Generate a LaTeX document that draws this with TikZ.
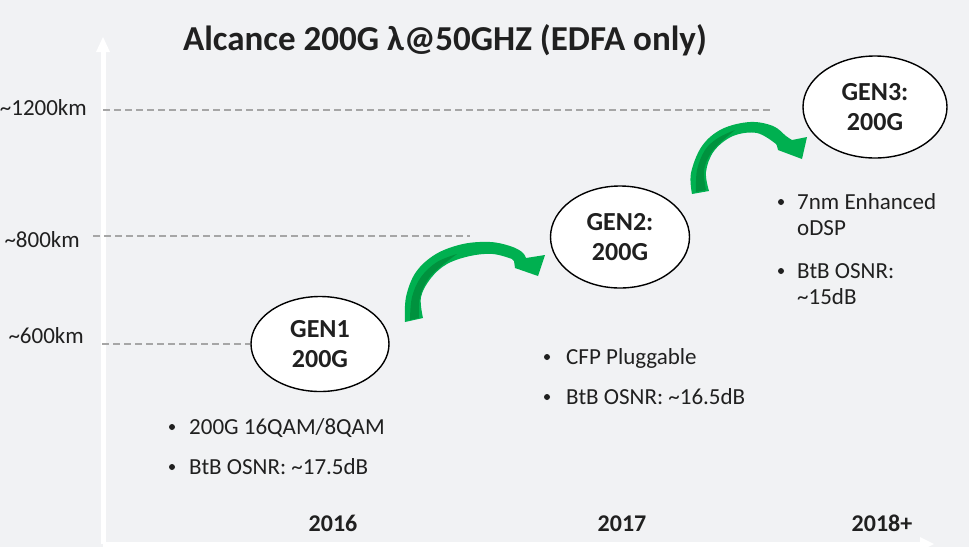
\documentclass[tikz,border=0pt]{standalone}
\usepackage{fontspec}
\setmainfont{Carlito}
\usetikzlibrary{shapes.geometric}
\definecolor{bg}{RGB}{241,242,244}
\definecolor{ink}{RGB}{32,32,32}
\definecolor{grn}{RGB}{0,176,80}
\definecolor{dgrn}{RGB}{0,146,62}
\definecolor{guide}{RGB}{166,166,166}
\begin{document}
\begin{tikzpicture}[x=1pt,y=-1pt,
  gen/.style={ellipse, draw=black, line width=1.4pt, fill=white, inner sep=0pt,
    font=\fontsize{26}{30}\selectfont\bfseries, text=ink, align=center},
  txt/.style={font=\fontsize{23}{26}\selectfont, text=ink, inner sep=0pt, anchor=base west},
  yrlbl/.style={font=\fontsize{24}{28}\selectfont\bfseries, text=ink, inner sep=0pt, anchor=base},
  kmlbl/.style={font=\fontsize{23}{27}\selectfont, text=ink, inner sep=0pt, anchor=base east},
  guideline/.style={draw=guide, line width=1.3pt, dash pattern=on 7pt off 4pt},
  axisline/.style={draw=white, line width=5pt},
  dot/.style={fill=ink}]

% canvas
\useasboundingbox (0,0) rectangle (969,547);
\fill[bg] (0,0) rectangle (969,547);

% axes
\coordinate (origin) at (103,544);
\coordinate (ytop) at (103,52);
\coordinate (xend) at (921,544);
\draw[axisline] (origin) -- (ytop);
\fill[white] (103,37) -- (110,52) -- (96,52) -- cycle;
\draw[axisline] (origin) -- (xend);
\fill[white] (934,544) -- (920,537) -- (920,551) -- cycle;

% title
\node[font=\fontsize{35}{40}\selectfont\bfseries, text=ink, inner sep=0pt, anchor=base] (title) at (445,50) {Alcance 200G λ@50GHZ (EDFA only)};

% generation bubbles
\node[gen, minimum width=138pt, minimum height=95pt] (gen1) at (320,344) {GEN1\\200G};
\node[gen, minimum width=139pt, minimum height=102pt] (gen2) at (620,237) {GEN2:\\200G};
\node[gen, minimum width=144pt, minimum height=102pt] (gen3) at (875,107) {GEN3:\\200G};

% reach guide lines
\coordinate (g1200a) at (103,110);
\coordinate (g1200b) at (770,110);
\coordinate (g800a) at (93,236);
\coordinate (g800b) at (470,236);
\coordinate (g600a) at (102,344);
\draw[guideline] (g1200a) -- (g1200b);
\draw[guideline] (g800a) -- (g800b);
\draw[guideline] (g600a) -- (gen1.west);

\node[kmlbl] (km1200) at (87,115) {\~{}1200km};
\node[kmlbl] (km800) at (80,247) {\~{}800km};
\node[kmlbl] (km600) at (84,343) {\~{}600km};

% curved arrow GEN1 -> GEN2
\fill[grn] plot[smooth, tension=0.6] coordinates {(405,322) (406,297) (416,272) (436,254) (463,244) (490,242) (510,246) (522,252) (526,258)}
  -- (545,255) -- (538,276) -- (515,268) -- (514,261)
  -- plot[smooth, tension=0.6] coordinates {(512,259) (493,254) (470,256) (447,264) (431,278) (421,297) (423,318)} -- cycle;
\fill[dgrn] plot[smooth, tension=0.6] coordinates {(410,320) (412,297) (421,277) (437,262) (457,254)}
  -- plot[smooth, tension=0.6] coordinates {(445,263) (429,278) (420,297) (419,318)} -- cycle;

% curved arrow GEN2 -> GEN3
\fill[grn] plot[smooth, tension=0.6] coordinates {(692,194) (691,173) (702,146) (722,129) (750,122) (773,126) (786,136) (792,140)}
  -- (807,137) -- (802,159) -- (778,150) -- (777,146)
  -- plot[smooth, tension=0.6] coordinates {(776,144) (757,133) (733,136) (714,151) (706,172) (709,191)} -- cycle;
\fill[dgrn] plot[smooth, tension=0.6] coordinates {(696,192) (697,170) (705,150) (718,138) (735,130)}
  -- plot[smooth, tension=0.6] coordinates {(722,141) (711,153) (704,170) (706,190)} -- cycle;

% GEN1 notes
\fill[dot] (172,427) circle (3pt);
\node[txt] (n1a) at (189,434) {200G 16QAM/8QAM};
\fill[dot] (172,467) circle (3pt);
\node[txt] (n1b) at (189,474) {BtB OSNR: \~{}17.5dB};

% GEN2 notes
\fill[dot] (547,357) circle (3pt);
\node[txt] (n2a) at (566,364) {CFP Pluggable};
\fill[dot] (547,397) circle (3pt);
\node[txt] (n2b) at (566,404) {BtB OSNR: \~{}16.5dB};

% GEN3 notes
\fill[dot] (781,202) circle (3pt);
\node[txt] (n3a) at (797,209) {7nm Enhanced};
\node[txt] (n3b) at (797,235) {oDSP};
\fill[dot] (781,271) circle (3pt);
\node[txt] (n3c) at (797,278) {BtB OSNR:};
\node[txt] (n3d) at (797,304) {\~{}15dB};

% years
\node[yrlbl] (y2016) at (333,531) {2016};
\node[yrlbl] (y2017) at (622,531) {2017};
\node[yrlbl] (y2018) at (882,531) {2018+};
\end{tikzpicture}
\end{document}
